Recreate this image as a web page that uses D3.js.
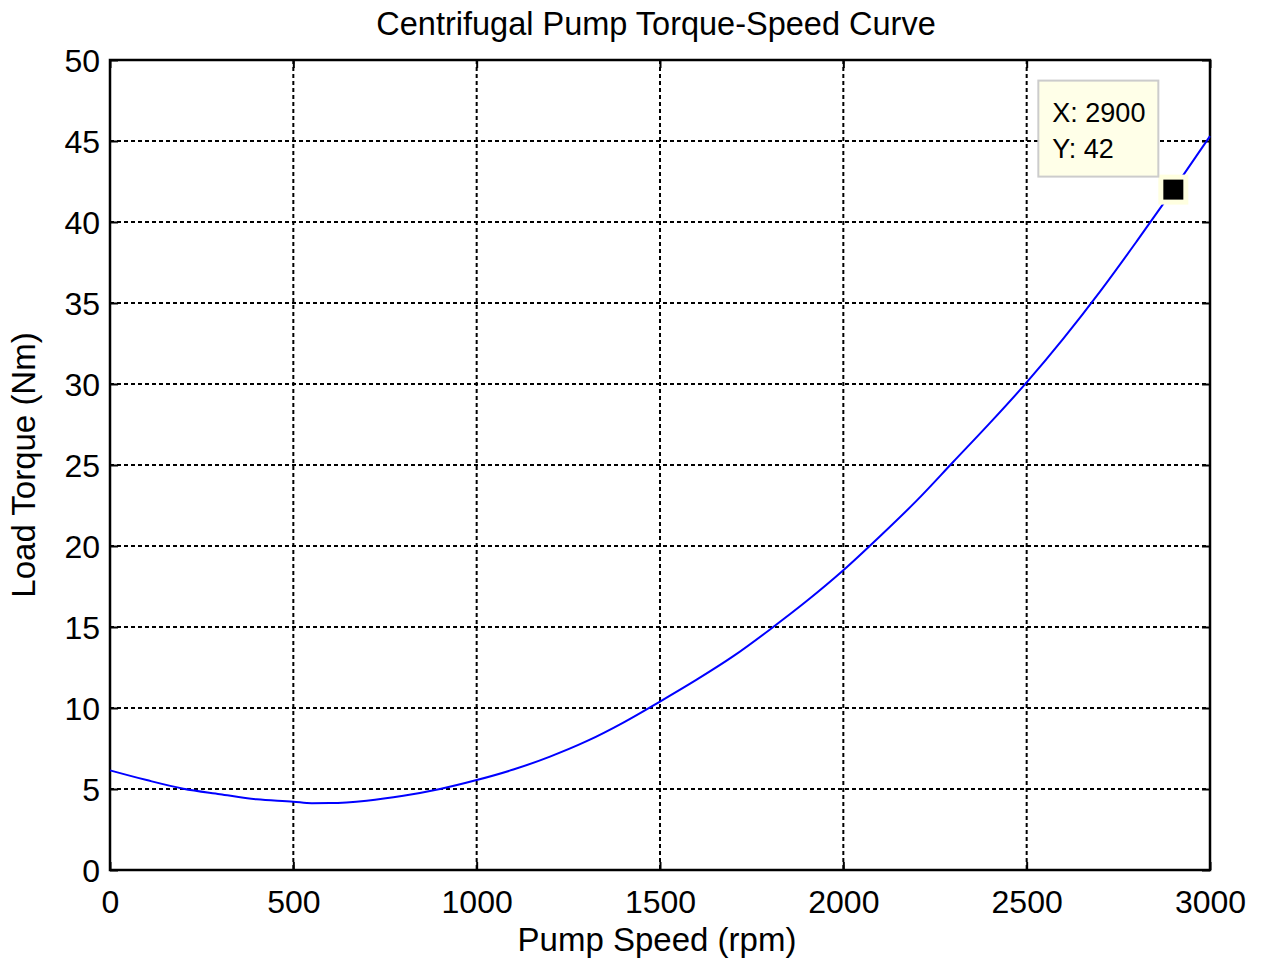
<!DOCTYPE html>
<html>
<head>
<meta charset="utf-8">
<script src="https://cdn.jsdelivr.net/npm/d3@7"></script>
<style>
  html, body { margin: 0; padding: 0; background: #fff; }
  svg text { font-family: "Liberation Sans", Arial, Helvetica, sans-serif; fill: #000; }
</style>
</head>
<body>
<svg id="chart" width="1264" height="965"></svg>
<script>
// Pump speed samples (rpm) and the load torque read at each (Nm)
const speed = [0, 100, 200, 300, 400, 500, 550, 600, 700, 800, 900,
               1000, 1100, 1200, 1300, 1400, 1500, 1600, 1700, 1800, 1900,
               2000, 2100, 2200, 2300, 2400, 2500, 2600, 2700, 2800, 2900, 3000];
const torque = [6.15, 5.55, 5.02, 4.68, 4.36, 4.22, 4.12, 4.13, 4.28, 4.58, 5.0,
                5.55, 6.2, 7.0, 7.95, 9.1, 10.4, 11.75, 13.2, 14.85, 16.6,
                18.5, 20.6, 22.8, 25.2, 27.6, 30.1, 32.8, 35.7, 38.8, 42, 45.3];

const xTicks = [0, 500, 1000, 1500, 2000, 2500, 3000];
const yTicks = [0, 5, 10, 15, 20, 25, 30, 35, 40, 45, 50];

// Data tip
const tipX = 2900;
const tipY = 42;

const svg = d3.select("#chart");
const plotL = 110, plotR = 1210, plotT = 60, plotB = 870;

const x = d3.scaleLinear().domain([0, 3000]).range([plotL, plotR]);
const y = d3.scaleLinear().domain([0, 50]).range([plotB, plotT]);

// Grid
const grid = svg.append("g");
grid.selectAll("line.gx").data(xTicks.slice(1, -1)).join("line")
  .attr("x1", d => x(d)).attr("x2", d => x(d))
  .attr("y1", plotT).attr("y2", plotB)
  .attr("stroke", "#000").attr("stroke-width", 2).attr("stroke-dasharray", "4,3");
grid.selectAll("line.gy").data(yTicks.slice(1, -1)).join("line")
  .attr("y1", d => y(d)).attr("y2", d => y(d))
  .attr("x1", plotL).attr("x2", plotR)
  .attr("stroke", "#000").attr("stroke-width", 2).attr("stroke-dasharray", "4,3");

// Axes with inward ticks
const xAxis = svg.append("g").attr("transform", `translate(0,${plotB})`)
  .call(d3.axisBottom(x).tickValues(xTicks).tickSizeInner(-8).tickSizeOuter(0).tickPadding(20).tickFormat(d3.format("d")));
const yAxis = svg.append("g").attr("transform", `translate(${plotL},0)`)
  .call(d3.axisLeft(y).tickValues(yTicks).tickSizeInner(-8).tickSizeOuter(0).tickPadding(10).tickFormat(d3.format("d")));
svg.append("g").attr("transform", `translate(0,${plotT})`)
  .call(d3.axisTop(x).tickValues(xTicks).tickSizeInner(-8).tickSizeOuter(0).tickFormat(""));
svg.append("g").attr("transform", `translate(${plotR},0)`)
  .call(d3.axisRight(y).tickValues(yTicks).tickSizeInner(-8).tickSizeOuter(0).tickFormat(""));

svg.selectAll(".domain").remove();
svg.selectAll(".tick line").attr("stroke", "#000").attr("stroke-width", 2);
xAxis.selectAll("text").attr("font-size", 32).attr("dy", "0.71em");
yAxis.selectAll("text").attr("font-size", 32).attr("dy", "0.35em");

// Frame
svg.append("rect").attr("x", plotL).attr("y", plotT)
  .attr("width", plotR - plotL).attr("height", plotB - plotT)
  .attr("fill", "none").attr("stroke", "#000").attr("stroke-width", 2.5);

// Curve
const pts = speed.map((s, i) => [s, torque[i]]);
svg.append("path").datum(pts)
  .attr("fill", "none").attr("stroke", "#0000ff").attr("stroke-width", 2)
  .attr("d", d3.line().x(d => x(d[0])).y(d => y(d[1])).curve(d3.curveMonotoneX));

// Data tip marker
const mx = x(tipX), my = y(tipY);
svg.append("rect").attr("x", mx - 15).attr("y", my - 15).attr("width", 30).attr("height", 30)
  .attr("fill", "#ffffe0");
svg.append("rect").attr("x", mx - 10).attr("y", my - 10).attr("width", 20).attr("height", 20)
  .attr("fill", "#000");

// Data tip box
const bx = mx - 135, by = my - 109;
svg.append("rect").attr("x", bx).attr("y", by).attr("width", 120).attr("height", 96)
  .attr("fill", "#ffffe8").attr("stroke", "#cccccc").attr("stroke-width", 2);
svg.append("text").attr("x", bx + 14).attr("y", by + 41).attr("font-size", 27).text(`X: ${tipX}`);
svg.append("text").attr("x", bx + 14).attr("y", by + 77).attr("font-size", 27).text(`Y: ${tipY}`);

// Titles
svg.append("text").attr("x", 656).attr("y", 35).attr("text-anchor", "middle")
  .attr("font-size", 32.5).text("Centrifugal Pump Torque-Speed Curve");
svg.append("text").attr("x", 657).attr("y", 951).attr("text-anchor", "middle")
  .attr("font-size", 33).text("Pump Speed (rpm)");
svg.append("text").attr("transform", `translate(35,${(plotT + plotB) / 2}) rotate(-90)`)
  .attr("text-anchor", "middle").attr("font-size", 33).text("Load Torque (Nm)");
</script>
</body>
</html>
